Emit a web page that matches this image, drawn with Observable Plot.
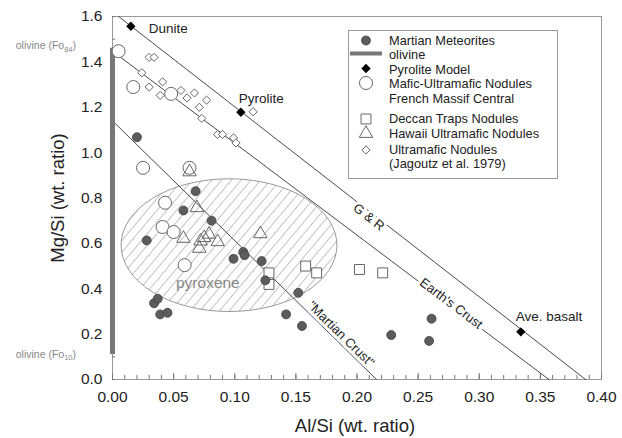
<!DOCTYPE html>
<html><head><meta charset="utf-8">
<script src="https://cdn.jsdelivr.net/npm/d3@7"></script>
<script src="https://cdn.jsdelivr.net/npm/@observablehq/plot@0.6"></script>
<style>body{margin:0;background:#fff}#chart{width:622px;height:438px}</style>
</head><body><div id="chart"></div>
<script>
const FONT = '"Liberation Sans", Arial, Helvetica, sans-serif';

// ---- data (Al/Si, Mg/Si) ----
const martianMeteorites = [[0.020,1.068],[0.068,0.83],[0.058,0.745],[0.081,0.70],[0.028,0.613],[0.099,0.532],[0.107,0.562],[0.108,0.548],[0.122,0.522],[0.125,0.437],[0.034,0.336],[0.037,0.356],[0.039,0.287],[0.045,0.294],[0.142,0.287],[0.152,0.382],[0.155,0.236],[0.228,0.196],[0.261,0.268],[0.259,0.17]];
const maficNodules = [[0.005,1.447],[0.017,1.289],[0.048,1.259],[0.025,0.933],[0.063,0.933],[0.043,0.779],[0.041,0.672],[0.050,0.650],[0.059,0.504]];
const deccanNodules = [[0.128,0.47],[0.128,0.419],[0.158,0.50],[0.167,0.47],[0.202,0.485],[0.221,0.47]];
const hawaiiNodules = [[0.063,0.915],[0.069,0.757],[0.058,0.622],[0.072,0.61],[0.075,0.625],[0.079,0.64],[0.071,0.578],[0.086,0.607],[0.121,0.642]];
const jagoutzNodules = [[0.030,1.42],[0.034,1.42],[0.024,1.352],[0.030,1.289],[0.041,1.312],[0.039,1.252],[0.056,1.274],[0.061,1.241],[0.067,1.263],[0.077,1.231],[0.071,1.20],[0.073,1.151],[0.086,1.08],[0.090,1.08],[0.099,1.065],[0.101,1.043],[0.115,1.18]];
const pyroliteNames = ["Dunite","Pyrolite","Ave. basalt"];
const pyroliteModel = [[0.015,1.557],[0.105,1.178],[0.334,0.21]];
const olivineMgSi = [0.11, 1.46];
const olivineLabels = ["10", "84"];
const lineGR = [[0.005,1.6],[0.387,0]];
const lineEarthCrust = [[0,1.447],[0.357,0]];
const lineMartianCrust = [[0,1.14],[0.216,0]];
const lineNames = ["G & R", "Earth's Crust", "\"Martian Crust\""];
const lineLabelPos = [[0.2097,0.716],[0.277,0.335],[0.1870,0.200]];
const pyroxeneCenter = [0.0957, 0.59];
const pyroxeneRadii = [0.0883, 0.2925];
const xMajor = [0,0.05,0.10,0.15,0.20,0.25,0.30,0.35,0.40];
const yMajor = [0,0.2,0.4,0.6,0.8,1.0,1.2,1.4,1.6];
const xMinor = d3.range(0, 0.401, 0.01);
const yMinor = d3.range(0, 1.601, 0.1);
const legendLabels = ["Martian Meteorites","olivine","Pyrolite Model","Mafic-Ultramafic Nodules","French Massif Central","Deccan Traps Nodules","Hawaii Ultramafic Nodules","Ultramafic Nodules","(Jagoutz et al. 1979)"];

const pts = a => a.map(([x,y]) => ({x,y}));
const W = 622, H = 438;
const lineColor = "#4a4a4a", openColor = "#666";

const ang = [38, 37, 44.4];
const lineLabels = lineNames.map((t,i)=>({t, x: lineLabelPos[i][0], y: lineLabelPos[i][1], a: ang[i]}));
const pyro = pyroliteNames.map((n,i)=>({n, x: pyroliteModel[i][0], y: pyroliteModel[i][1]}));

const plot = Plot.plot({
  width: W, height: H,
  marginLeft: 112, marginRight: 21, marginTop: 16, marginBottom: 59,
  x: {domain: [0, 0.40]},
  y: {domain: [0, 1.6]},
  style: {fontFamily: FONT, fontSize: "15.5px", color: "#222", background: "white", overflow: "visible"},
  marks: [
    Plot.frame({stroke: "#999"}),
    Plot.axisX(xMajor, {tickSize: 0, tickPadding: 11.5, tickFormat: d3.format(".2f"), label: null, fontSize: 15.5}),
    Plot.axisX(xMinor, {tickSize: -4, tickFormat: () => "", label: null, stroke: "#777"}),
    Plot.axisX(xMajor, {tickSize: -6, tickFormat: () => "", label: null, stroke: "#777"}),
    Plot.axisY(yMajor, {tickSize: 0, tickPadding: 10, tickFormat: d3.format(".1f"), label: null, fontSize: 15.5}),
    Plot.axisY(yMinor, {tickSize: -3, tickFormat: () => "", label: null, stroke: "#777"}),
    Plot.line(pts(lineGR), {x: "x", y: "y", stroke: lineColor, strokeWidth: 1}),
    Plot.line(pts(lineEarthCrust), {x: "x", y: "y", stroke: lineColor, strokeWidth: 1}),
    Plot.line(pts(lineMartianCrust), {x: "x", y: "y", stroke: lineColor, strokeWidth: 1}),
    Plot.ruleX([0], {y1: olivineMgSi[0], y2: olivineMgSi[1], stroke: "#777", strokeWidth: 5}),
    Plot.text(lineLabels, {x: "x", y: "y", text: "t", rotate: "a", fontSize: 13, fill: "#222", stroke: "white", strokeWidth: 6, paintOrder: "stroke"}),
    Plot.text([{t: "pyroxene", x: 0.078, y: 0.426}], {x: "x", y: "y", text: "t", fontSize: 15.5, fill: "#888"}),
    Plot.dot(pts(maficNodules), {x: "x", y: "y", r: 6.5, symbol: "circle", stroke: openColor, fill: "white", strokeWidth: 1}),
    Plot.dot(pts(deccanNodules), {x: "x", y: "y", r: 5.6, symbol: "square", stroke: openColor, fill: "white", strokeWidth: 1}),
    Plot.dot(pts(jagoutzNodules), {x: "x", y: "y", r: 3.7, symbol: "diamond2", stroke: openColor, fill: "white", strokeWidth: 1}),
    Plot.dot(pts(hawaiiNodules), {x: "x", y: "y", r: 5, symbol: "triangle", stroke: openColor, fill: "none", strokeWidth: 1}),
    Plot.dot(pts(martianMeteorites), {x: "x", y: "y", r: 4.5, symbol: "circle", fill: "#5c5c5c", stroke: "#444", strokeWidth: 0.8}),
    Plot.dot(pyro, {x: "x", y: "y", r: 4.2, symbol: "diamond2", fill: "#000"}),
    Plot.text(pyro.filter(d => d.n === "Dunite"), {x: "x", y: "y", text: "n", textAnchor: "start", dx: 18, dy: 2, fontSize: 13.5, fill: "#222"}),
    Plot.text(pyro.filter(d => d.n === "Pyrolite"), {x: "x", y: "y", text: "n", textAnchor: "start", dx: -2, dy: -14, fontSize: 13.5, fill: "#222"}),
    Plot.text(pyro.filter(d => d.n === "Ave. basalt"), {x: "x", y: "y", text: "n", textAnchor: "start", dx: -5, dy: -15, fontSize: 13.5, fill: "#222"})
  ]
});

const svg = plot;
const xs = plot.scale("x"), ys = plot.scale("y");
function lin(s, v){ const [d0,d1] = s.domain, [r0,r1] = s.range; return r0 + (v-d0)/(d1-d0)*(r1-r0); }
const px = v => xs.apply ? xs.apply(v) : lin(xs, v);
const py = v => ys.apply ? ys.apply(v) : lin(ys, v);
const NS = "http://www.w3.org/2000/svg";
const S = d3.select(svg);

// hatch pattern + pyroxene ellipse (behind lines and points)
const defs = S.insert("defs", ":first-child");
const pat = defs.append("pattern").attr("id", "hatch").attr("patternUnits", "userSpaceOnUse")
  .attr("width", 7.5).attr("height", 7.5).attr("patternTransform", "rotate(40)");
pat.append("rect").attr("width", 7.5).attr("height", 7.5).attr("fill", "white");
pat.append("line").attr("x1", 0).attr("y1", 0).attr("x2", 0).attr("y2", 7.5).attr("stroke", "#8a8a8a").attr("stroke-width", 1);
const eg = document.createElementNS(NS, "g");
const firstLine = svg.querySelector('g[aria-label="line"]');
svg.insertBefore(eg, firstLine);
const ecx = px(pyroxeneCenter[0]), ecy = py(pyroxeneCenter[1]);
d3.select(eg).append("ellipse")
  .attr("cx", ecx).attr("cy", ecy)
  .attr("rx", px(pyroxeneCenter[0] + pyroxeneRadii[0]) - ecx)
  .attr("ry", ecy - py(pyroxeneCenter[1] + pyroxeneRadii[1]))
  .attr("fill", "url(#hatch)").attr("stroke", "#999").attr("stroke-width", 1);

// olivine labels on the left margin
olivineMgSi.forEach((v, i) => {
  const t = S.append("text").attr("x", 76).attr("y", py(v) + (i === 1 ? -2 : 0)).attr("dy", "0.35em")
    .attr("text-anchor", "end").attr("fill", "#888").attr("font-size", 10.5).attr("font-family", FONT);
  t.append("tspan").text("olivine (Fo");
  t.append("tspan").attr("font-size", 7.5).attr("dy", "0.35em").text(olivineLabels[i]);
  t.append("tspan").attr("dy", "-0.25em").text(")");
});

// axis titles
S.append("text").attr("x", 355).attr("y", 432).attr("text-anchor", "middle")
  .attr("font-size", 18.5).attr("fill", "#222").attr("font-family", FONT).text("Al/Si (wt. ratio)");
S.append("text").attr("transform", "translate(64,198) rotate(-90)").attr("text-anchor", "middle")
  .attr("font-size", 18.5).attr("fill", "#222").attr("font-family", FONT).text("Mg/Si (wt. ratio)");

// legend
const L = S.append("g").attr("font-family", FONT).attr("font-size", 12.8).attr("fill", "#222").attr("text-anchor", "start");
L.append("rect").attr("x", 348.5).attr("y", 30.5).attr("width", 209).attr("height", 148)
  .attr("fill", "white").attr("stroke", "#999");
const ly = [40.6, 55, 69.3, 83.3, 98.3, 119, 133.3, 149.8, 163.5];
legendLabels.forEach((t, i) => L.append("text").attr("x", 389).attr("y", ly[i]).attr("dy", "0.35em").attr("text-anchor", "start").text(t));
const sym = (type, r) => d3.symbol(type, r * r * Math.PI)();
const sx = 366;
L.append("path").attr("d", sym(d3.symbolCircle, 4.5)).attr("transform", `translate(${sx},40.5)`).attr("fill", "#5c5c5c").attr("stroke", "#444").attr("stroke-width", 0.8);
L.append("line").attr("x1", 350).attr("x2", 382).attr("y1", 53.5).attr("y2", 53.5).attr("stroke", "#777").attr("stroke-width", 4);
L.append("path").attr("d", sym(d3.symbolDiamond2, 4.2)).attr("transform", `translate(${sx},68.5)`).attr("fill", "#000");
L.append("path").attr("d", sym(d3.symbolCircle, 6.5)).attr("transform", `translate(${sx},83)`).attr("fill", "white").attr("stroke", openColor);
L.append("path").attr("d", sym(d3.symbolSquare, 5.6)).attr("transform", `translate(${sx},119)`).attr("fill", "white").attr("stroke", openColor);
L.append("path").attr("d", sym(d3.symbolTriangle, 5)).attr("transform", `translate(${sx},133.5)`).attr("fill", "white").attr("stroke", openColor);
L.append("path").attr("d", sym(d3.symbolDiamond2, 3.7)).attr("transform", `translate(${sx},150)`).attr("fill", "white").attr("stroke", openColor);

document.getElementById("chart").appendChild(svg);
</script>
</body></html>
